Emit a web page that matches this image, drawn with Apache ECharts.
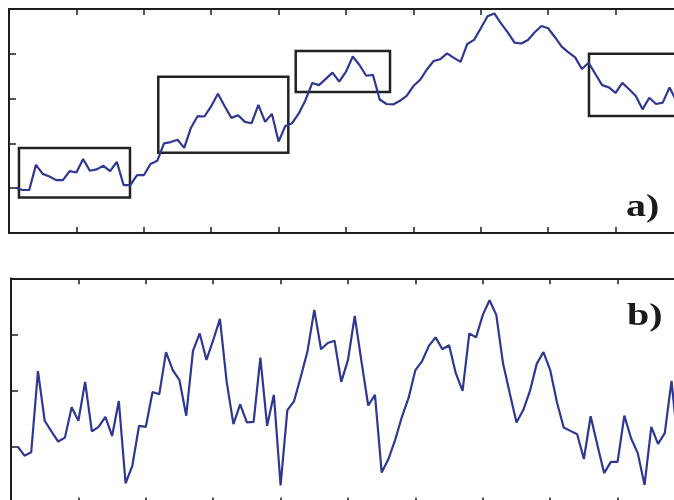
<!DOCTYPE html>
<html>
<head>
<meta charset="utf-8">
<script src="https://cdn.jsdelivr.net/npm/echarts@6/dist/echarts.min.js"></script>
<style>
  html, body { margin: 0; padding: 0; background: #ffffff; overflow: hidden; }
  /* the plot runs past the right and bottom edges of the page */
  #chart { width: 720px; height: 520px; }
</style>
</head>
<body>
<div id="chart"></div>
<script>
// Panel a: slowly drifting signal (samples 1..99)
const signalA = [
  1.01, 0.96, 0.96, 1.52, 1.32, 1.26, 1.18, 1.18, 1.38, 1.35,
  1.65, 1.39, 1.42, 1.50, 1.38, 1.59, 1.07, 1.07, 1.29, 1.29,
  1.54, 1.61, 2.00, 2.03, 2.08, 1.90, 2.35, 2.61, 2.60, 2.83,
  3.11, 2.83, 2.57, 2.63, 2.48, 2.45, 2.86, 2.48, 2.66, 2.04,
  2.39, 2.45, 2.67, 2.97, 3.35, 3.30, 3.44, 3.58, 3.38, 3.60,
  3.94, 3.75, 3.51, 3.53, 2.98, 2.88, 2.87, 2.95, 3.06, 3.28,
  3.42, 3.65, 3.84, 3.88, 4.01, 3.91, 3.82, 4.22, 4.31, 4.57,
  4.84, 4.90, 4.68, 4.48, 4.25, 4.23, 4.31, 4.48, 4.62, 4.57,
  4.37, 4.16, 4.03, 3.92, 3.66, 3.80, 3.55, 3.30, 3.25, 3.13,
  3.35, 3.21, 3.06, 2.76, 3.02, 2.88, 2.91, 3.25, 2.95
];

// Panel b: rapidly fluctuating signal (samples 1..99)
const signalB = [
  1.01, 0.85, 0.91, 2.35, 1.47, 1.28, 1.10, 1.17, 1.71, 1.47,
  2.16, 1.28, 1.36, 1.54, 1.20, 1.82, 0.36, 0.67, 1.38, 1.36,
  1.98, 1.94, 2.69, 2.37, 2.19, 1.56, 2.71, 3.02, 2.55, 2.90,
  3.28, 2.16, 1.41, 1.76, 1.44, 1.45, 2.59, 1.38, 1.93, 0.32,
  1.66, 1.82, 2.25, 2.71, 3.44, 2.74, 2.85, 2.89, 2.16, 2.55,
  3.33, 2.52, 1.74, 1.93, 0.55, 0.79, 1.13, 1.54, 1.88, 2.37,
  2.53, 2.80, 2.95, 2.74, 2.81, 2.31, 2.00, 3.02, 2.95, 3.35,
  3.61, 3.35, 2.49, 1.96, 1.44, 1.66, 2.00, 2.48, 2.69, 2.37,
  1.80, 1.35, 1.29, 1.23, 0.79, 1.55, 1.04, 0.54, 0.74, 0.74,
  1.56, 1.16, 0.89, 0.33, 1.36, 1.06, 1.25, 2.18, 0.99
];

// Windows highlighted on panel a: [start sample, end sample, low, high]
const windowStart = [1.48, 22.15, 42.54, 86.05];
const windowEnd   = [17.95, 41.44, 56.53, 100];
const windowLow   = [0.79, 1.79, 3.15, 2.61];
const windowHigh  = [1.90, 3.49, 4.06, 4.00];

const panelLabels = ['a)', 'b)'];

const toPairs = (vals) => vals.map((v, k) => [k + 1, v]);

const lineColor = '#2e3892';
const axisColor = '#1e1e1e';
const labelFont = 'bold 32px "Liberation Serif", "DejaVu Serif", serif';

function xAxisDef(gridIndex, position) {
  return {
    type: 'value', gridIndex, position,
    min: 0, max: 100, interval: 10,
    axisLine: { show: true, onZero: false, lineStyle: { color: axisColor, width: 2 } },
    axisTick: { show: true, inside: true, length: 6, lineStyle: { color: axisColor, width: 1.5 } },
    axisLabel: { show: false },
    splitLine: { show: false }
  };
}
function yAxisDef(gridIndex, max) {
  return {
    type: 'value', gridIndex,
    min: 0, max, interval: 1,
    axisLine: { show: true, onZero: false, lineStyle: { color: axisColor, width: 2 } },
    axisTick: { show: true, inside: true, length: 7, lineStyle: { color: axisColor, width: 1.5 } },
    axisLabel: { show: false },
    splitLine: { show: false }
  };
}

const windows = windowStart.map((s, k) => [
  { coord: [s, windowHigh[k]] },
  { coord: [windowEnd[k], windowLow[k]] }
]);

const chart = echarts.init(document.getElementById('chart'), null, { renderer: 'canvas' });
chart.setOption({
  animation: false,
  backgroundColor: '#ffffff',
  grid: [
    { left: 9, top: 9, width: 674, height: 224 },
    { left: 11, top: 278.3, width: 674, height: 225.2 }
  ],
  xAxis: [
    xAxisDef(0, 'bottom'), xAxisDef(0, 'top'),
    xAxisDef(1, 'bottom'), xAxisDef(1, 'top')
  ],
  yAxis: [yAxisDef(0, 5), yAxisDef(1, 4)],
  series: [
    {
      type: 'line', xAxisIndex: 0, yAxisIndex: 0,
      data: toPairs(signalA),
      showSymbol: false, smooth: false,
      lineStyle: { color: lineColor, width: 2.2 },
      markArea: {
        silent: true,
        itemStyle: { color: 'rgba(0,0,0,0)', borderColor: '#222222', borderWidth: 2.5 },
        data: windows
      }
    },
    {
      type: 'line', xAxisIndex: 2, yAxisIndex: 1,
      data: toPairs(signalB),
      showSymbol: false, smooth: false,
      lineStyle: { color: lineColor, width: 2.2 }
    }
  ],
  graphic: [
    {
      type: 'text', left: 626, top: 192, scaleX: 1.25,
      style: { text: panelLabels[0], font: labelFont, fill: '#1a1a1a' }
    },
    {
      type: 'text', left: 627, top: 301, scaleX: 1.25,
      style: { text: panelLabels[1], font: labelFont, fill: '#1a1a1a' }
    }
  ]
});
</script>
</body>
</html>
